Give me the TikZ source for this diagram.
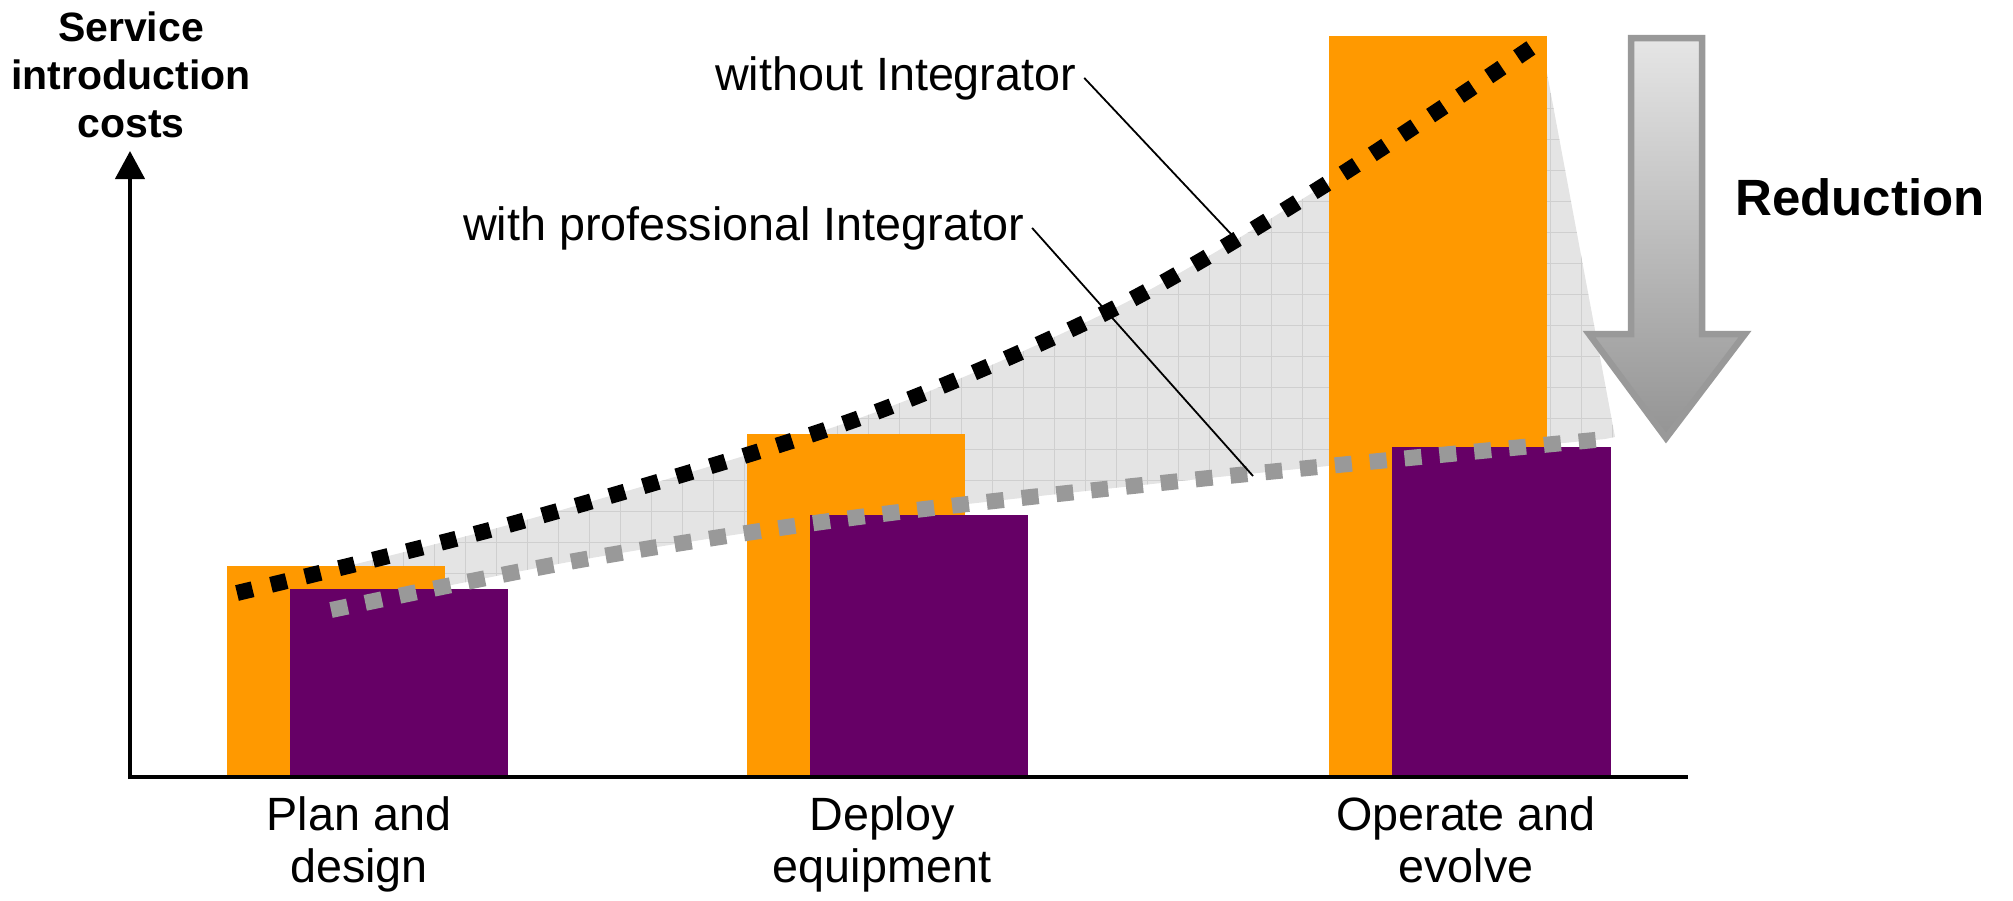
\documentclass[tikz,border=0pt]{standalone}
\usepackage{fontspec}
\setmainfont{Liberation Sans}
\usetikzlibrary{arrows.meta}
\definecolor{orng}{HTML}{FF9900}
\definecolor{purp}{HTML}{660066}
\definecolor{dotgray}{HTML}{999999}
\definecolor{areagray}{HTML}{E4E4E4}
\definecolor{gridgray}{HTML}{CFCFCF}
\tikzset{
  lbl/.style={font=\fontsize{46.7}{52}\selectfont, inner ysep=0pt, inner xsep=8pt},
  phase/.style={font=\fontsize{46.7}{52}\selectfont, align=center, inner sep=0pt, anchor=base},
  orangebar/.style={fill=orng},
  purplebar/.style={fill=purp},
  blackdots/.style={line width=16pt, dash pattern=on 16pt off 19pt, black},
  graydots/.style={line width=16pt, dash pattern=on 17pt off 18pt, dotgray},
  leader/.style={line width=1.8pt, black},
  axisline/.style={line width=4.5pt, black},
  gridline/.style={gridgray, line width=0.7pt},
}
\def\blackpts{(237,593) (519,522) (857,419) (1115,308) (1328,183) (1541,41)}
\def\graypts{(331,610) (580,560) (859,517) (1209,478) (1605,439)}
\def\graypr{(1605,439) (1209,478) (859,517) (580,560) (331,610)}
\begin{document}
\begin{tikzpicture}[x=1pt,y=-1pt]
\useasboundingbox (0,0) rectangle (2013,900);
% shaded reduction area
\fill[areagray] plot[smooth] coordinates {\blackpts} -- (1615,437) -- plot[smooth] coordinates {\graypr} -- cycle;
\begin{scope}
\clip plot[smooth] coordinates {\blackpts} -- (1615,437) -- plot[smooth] coordinates {\graypr} -- cycle;
\foreach \gx in {217,248,...,1700} \draw[gridline] (\gx,0) -- (\gx,700);
\foreach \gy in {15,46,...,700} \draw[gridline] (200,\gy) -- (1700,\gy);
\end{scope}
% bars
\fill[orangebar] (227,566) rectangle (445,777);
\fill[orangebar] (747,434) rectangle (965,777);
\fill[orangebar] (1329,36) rectangle (1547,777);
\fill[purplebar] (290,589) rectangle (508,777);
\fill[purplebar] (810,515) rectangle (1028,777);
\fill[purplebar] (1392,447) rectangle (1611,777);
% axes
\draw[axisline] (128,777) -- (1688,777);
\draw[axisline, -{Triangle[length=28pt,width=29pt]}] (130,779) -- (130,151);
% curves
\draw[blackdots] plot[smooth] coordinates {\blackpts};
\draw[graydots] plot[smooth] coordinates {\graypts};
% reduction arrow
\draw[line width=6.5pt, draw=dotgray, top color=black!10, bottom color=black!42, line join=miter]
  (1631,38) -- (1702,38) -- (1702,334) -- (1745,334) -- (1666,438) -- (1589,334) -- (1631,334) -- cycle;
\node[font=\bfseries\fontsize{51}{60}\selectfont, anchor=base west, inner sep=0pt] (red) at (1735,215) {Reduction};
% axis label
\node[font=\bfseries\fontsize{41}{48}\selectfont, align=center, inner sep=0pt, anchor=base] (ylab) at (131,137) {Service\\introduction\\costs};
% phase labels
\node[phase] (p1) at (359,882) {Plan and\\design};
\node[phase] (p2) at (882,882) {Deploy\\equipment};
\node[phase] (p3) at (1466,882) {Operate and\\evolve};
% curve labels
\node[lbl, anchor=base west] (wo) at (707,90) {without Integrator};
\node[lbl, anchor=base west] (wp) at (455,240) {with professional Integrator};
\coordinate (woend) at (1231,234);
\coordinate (wpend) at (1253,476);
\draw[leader] (wo.east) -- (woend);
\draw[leader] (wp.east) -- (wpend);
\end{tikzpicture}
\end{document}
